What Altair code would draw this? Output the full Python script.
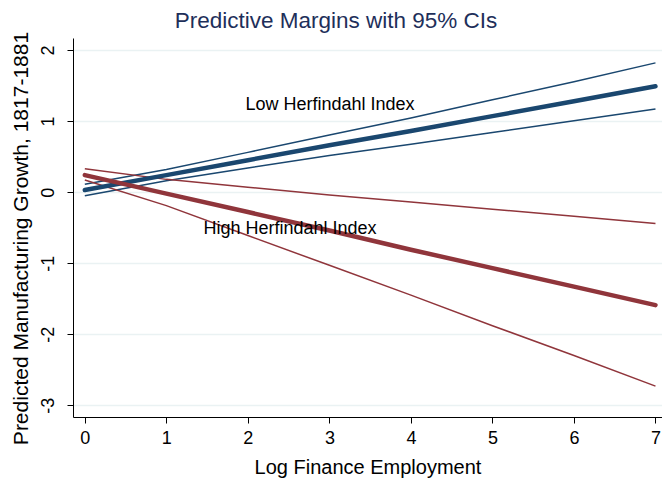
import altair as alt
import pandas as pd

x_vals = [0, 1, 2, 3, 4, 5, 6, 7]

low_mean = [0.03, 0.24, 0.45, 0.66, 0.86, 1.07, 1.28, 1.49]
low_upper = [0.11, 0.32, 0.56, 0.805, 1.045, 1.30, 1.555, 1.82]
low_lower = [-0.05, 0.16, 0.34, 0.515, 0.675, 0.84, 1.005, 1.17]

high_mean = [0.24, -0.02, -0.28, -0.54, -0.81, -1.07, -1.33, -1.59]
high_upper = [0.33, 0.18, 0.07, -0.04, -0.14, -0.24, -0.34, -0.44]
high_lower = [0.17, -0.19, -0.61, -1.03, -1.45, -1.88, -2.30, -2.73]

y_ticks = [-3, -2, -1, 0, 1, 2]

labels = ["Low Herfindahl Index", "High Herfindahl Index"]
label_x = [1.97, 1.455]
label_y = [1.24, -0.51]

chart_title = "Predictive Margins with 95% CIs"

BLUE = "#1a476f"
RED = "#90353b"
FONT = "Liberation Sans"

rows = []
for grp, series in [("Low", {"mean": low_mean, "upper": low_upper, "lower": low_lower}),
                    ("High", {"mean": high_mean, "upper": high_upper, "lower": high_lower})]:
    for kind, vals in series.items():
        for xv, yv in zip(x_vals, vals):
            rows.append({"x": xv, "y": yv, "group": grp, "kind": kind, "series": grp + "_" + kind})
df = pd.DataFrame(rows)

ann = pd.DataFrame({"x": label_x, "y": label_y, "label": labels})
ttl = pd.DataFrame({"t": [chart_title]})

xscale = alt.Scale(domain=[-0.145, 7.08], nice=False, zero=False)
yscale = alt.Scale(domain=[-3.165, 2.17], nice=False, zero=False)

xaxis = alt.Axis(values=x_vals, labelExpr="datum.value + ''", title="Log Finance Employment", grid=False,
                 tickSize=6, labelPadding=6, titlePadding=10,
                 labelFontSize=18, titleFontSize=20, labelFont=FONT, titleFont=FONT,
                 labelColor="black", titleColor="black", titleFontWeight="normal",
                 domainColor="black", tickColor="black", labelFlush=False, labelOverlap=False)
yaxis = alt.Axis(values=y_ticks, labelExpr="datum.value + ''",
                 title="Predicted Manufacturing Growth, 1817-1881",
                 grid=True, gridColor="#eaf2f3", gridWidth=1.3,
                 tickSize=6, labelAngle=270, labelAlign="center", labelBaseline="bottom",
                 labelPadding=10, titlePadding=8, labelOverlap=False, titleY=200,
                 labelFontSize=18, titleFontSize=21, labelFont=FONT, titleFont=FONT,
                 labelColor="black", titleColor="black", titleFontWeight="normal",
                 domainColor="black", tickColor="black")

color = alt.Color("group:N", scale=alt.Scale(domain=["Low", "High"], range=[BLUE, RED]), legend=None)

ci = alt.Chart(df[df["kind"] != "mean"]).mark_line(strokeWidth=1.5).encode(
    x=alt.X("x:Q", scale=xscale, axis=xaxis),
    y=alt.Y("y:Q", scale=yscale, axis=yaxis),
    color=color,
    detail="series:N",
)

mean = alt.Chart(df[df["kind"] == "mean"]).mark_line(strokeWidth=4.5, strokeCap="round").encode(
    x=alt.X("x:Q", scale=xscale),
    y=alt.Y("y:Q", scale=yscale),
    color=color,
    detail="series:N",
    order=alt.Order("x:Q"),
)

text = alt.Chart(ann).mark_text(align="left", baseline="middle", font=FONT, fontSize=18,
                                color="black", dy=1).encode(
    x=alt.X("x:Q", scale=xscale),
    y=alt.Y("y:Q", scale=yscale),
    text="label:N",
)

title_mark = alt.Chart(ttl).mark_text(align="center", baseline="alphabetic", font=FONT, fontSize=22.5,
                                      color="#1e2f5a").encode(
    x=alt.value(263), y=alt.value(-10), text="t:N",
)

chart = alt.layer(ci, mean, text, title_mark).properties(
    width=589, height=379,
    autosize=alt.AutoSizeParams(type="none"),
    padding={"left": 65, "top": 30, "right": 0, "bottom": 61},
    background="white",
).configure_view(stroke=None)

chart.save("out.html", embed_options={"renderer": "svg", "actions": False})
